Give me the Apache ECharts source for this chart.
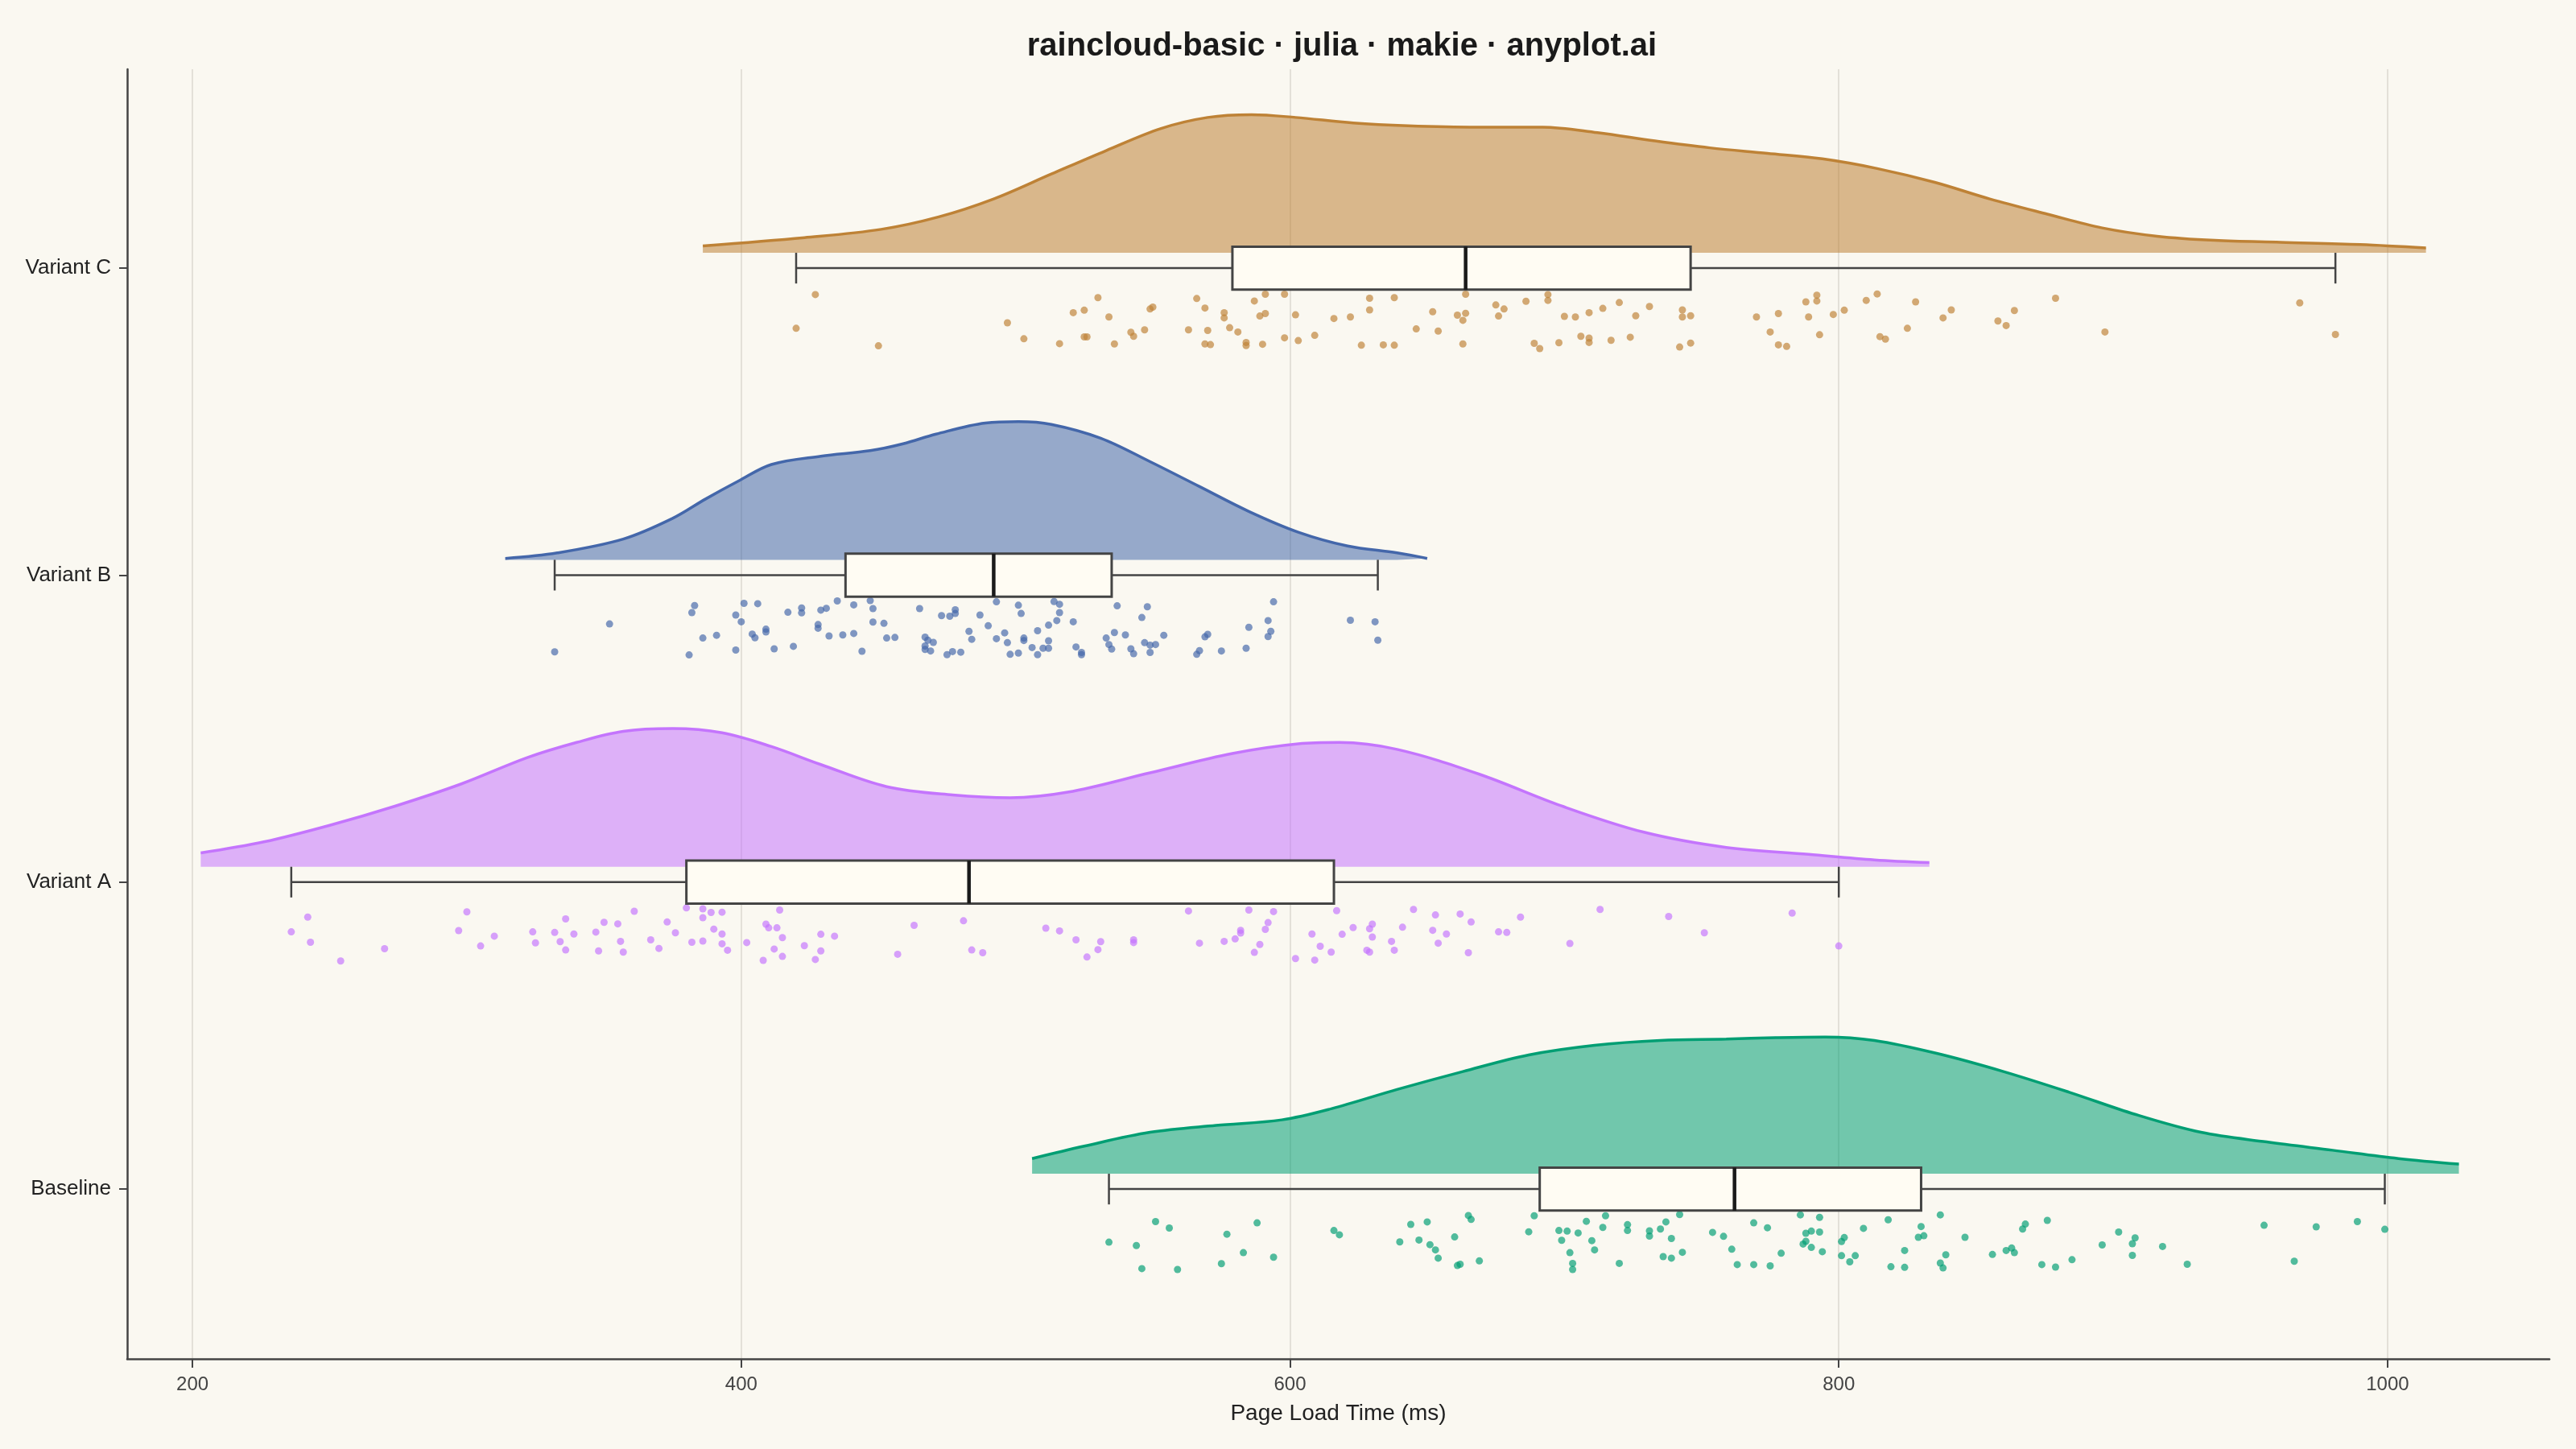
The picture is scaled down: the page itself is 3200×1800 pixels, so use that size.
<!DOCTYPE html>
<html>
<head>
<meta charset="utf-8">
<title>raincloud-basic</title>
<style>
    html, body { margin: 0; padding: 0; background: #FAF8F1; }
    #chart { width: 3200px; height: 1800px; }
</style>
</head>
<body>
<div id="chart"></div>
<script src="https://cdn.jsdelivr.net/npm/echarts@6/dist/echarts.min.js"></script>
<script>
// rows from bottom to top
var groups = ['Baseline', 'Variant A', 'Variant B', 'Variant C'];
var groupColors = ['#009E73', '#C475FD', '#4467AA', '#BE8236'];
var xTicks = [200, 400, 600, 800, 1000];

// density outline: [ms, height relative to the peak]
var baselineDensity = [[506,0.11],[525,0.20],[549,0.30],[573,0.35],[597,0.39],[615,0.47],[639,0.61],[663,0.74],[687,0.86],[711,0.93],[735,0.965],[759,0.975],[777,0.985],[795,0.99],[813,0.965],[836,0.87],[860,0.74],[884,0.59],[908,0.43],[932,0.30],[956,0.23],[980,0.17],[1004,0.11],[1026,0.07]];
var variantADensity = [[203,0.10],[226,0.18],[250,0.30],[274,0.44],[298,0.60],[322,0.79],[340,0.90],[357,0.98],[375,1.0],[393,0.97],[411,0.87],[429,0.74],[453,0.58],[477,0.52],[498,0.50],[519,0.54],[549,0.68],[579,0.82],[603,0.89],[618,0.90],[639,0.85],[669,0.67],[699,0.44],[729,0.25],[759,0.14],[789,0.09],[813,0.05],[833,0.03]];
var variantBDensity = [[314,0.01],[333,0.05],[357,0.15],[375,0.30],[387,0.44],[399,0.57],[411,0.69],[429,0.75],[447,0.79],[459,0.84],[471,0.91],[489,0.99],[501,1.0],[513,0.98],[531,0.88],[549,0.71],[567,0.53],[585,0.35],[603,0.20],[621,0.10],[639,0.05],[650,0.01]];
var variantCDensity = [[386,0.05],[423,0.11],[451,0.17],[472,0.26],[492,0.39],[513,0.57],[533,0.74],[553,0.90],[570,0.98],[586,1.0],[602,0.98],[623,0.94],[643,0.92],[668,0.91],[692,0.91],[712,0.87],[733,0.81],[753,0.76],[774,0.72],[794,0.68],[814,0.61],[835,0.51],[855,0.39],[876,0.28],[896,0.18],[916,0.12],[937,0.09],[961,0.076],[990,0.06],[1014,0.035]];

// box: [lower whisker, q1, median, q3, upper whisker]
var baselineBox = [534, 691, 762, 830, 999];
var variantABox = [236, 380, 483, 616, 800];
var variantBBox = [332, 438, 492, 535, 632];
var variantCBox = [420, 579, 664, 746, 981];

// rain: [ms, offset below the row]
var baselineDots = [[534,-0.173],[544,-0.184],[546,-0.259],[551,-0.106],[556,-0.127],[559,-0.262],[575,-0.243],[577,-0.147],[583,-0.207],[588,-0.110],[594,-0.222],[616,-0.135],[618,-0.149],[640,-0.172],[644,-0.115],[647,-0.166],[650,-0.107],[651,-0.181],[653,-0.198],[654,-0.225],[660,-0.156],[661,-0.249],[662,-0.245],[665,-0.086],[666,-0.099],[669,-0.234],[687,-0.139],[689,-0.087],[698,-0.135],[701,-0.137],[699,-0.167],[702,-0.207],[703,-0.242],[703,-0.262],[705,-0.143],[708,-0.105],[710,-0.168],[711,-0.198],[714,-0.125],[715,-0.087],[720,-0.242],[723,-0.135],[723,-0.116],[731,-0.153],[731,-0.136],[735,-0.130],[736,-0.220],[737,-0.107],[739,-0.225],[739,-0.161],[742,-0.083],[743,-0.206],[754,-0.141],[758,-0.154],[761,-0.196],[763,-0.246],[769,-0.110],[769,-0.246],[774,-0.126],[775,-0.250],[779,-0.209],[786,-0.084],[793,-0.092],[788,-0.144],[790,-0.137],[793,-0.140],[788,-0.170],[787,-0.179],[790,-0.190],[794,-0.204],[801,-0.171],[802,-0.158],[801,-0.217],[804,-0.237],[806,-0.217],[809,-0.128],[818,-0.100],[819,-0.253],[824,-0.255],[824,-0.200],[829,-0.157],[831,-0.152],[830,-0.122],[837,-0.084],[839,-0.214],[837,-0.241],[838,-0.257],[846,-0.157],[856,-0.213],[861,-0.200],[863,-0.192],[864,-0.207],[867,-0.130],[868,-0.114],[874,-0.246],[876,-0.102],[879,-0.254],[885,-0.230],[896,-0.182],[902,-0.140],[907,-0.178],[908,-0.159],[907,-0.216],[918,-0.187],[927,-0.245],[955,-0.118],[966,-0.235],[974,-0.123],[989,-0.106],[999,-0.131]];
var variantADots = [[236,-0.162],[242,-0.114],[243,-0.196],[254,-0.257],[270,-0.217],[300,-0.097],[297,-0.158],[305,-0.208],[310,-0.176],[324,-0.162],[325,-0.198],[332,-0.164],[334,-0.194],[336,-0.120],[336,-0.221],[339,-0.169],[347,-0.163],[348,-0.224],[350,-0.131],[355,-0.136],[356,-0.193],[357,-0.228],[361,-0.095],[367,-0.188],[370,-0.216],[373,-0.130],[376,-0.165],[380,-0.084],[382,-0.196],[386,-0.192],[386,-0.087],[386,-0.116],[389,-0.099],[393,-0.098],[390,-0.153],[393,-0.169],[393,-0.201],[395,-0.222],[402,-0.197],[408,-0.255],[409,-0.137],[410,-0.149],[413,-0.149],[414,-0.091],[415,-0.181],[412,-0.218],[415,-0.242],[423,-0.207],[427,-0.252],[429,-0.170],[429,-0.224],[434,-0.176],[457,-0.235],[463,-0.141],[481,-0.126],[484,-0.221],[488,-0.230],[511,-0.150],[516,-0.159],[522,-0.188],[526,-0.244],[530,-0.220],[531,-0.194],[543,-0.188],[543,-0.197],[563,-0.094],[567,-0.199],[576,-0.193],[580,-0.185],[582,-0.157],[582,-0.166],[585,-0.091],[587,-0.229],[589,-0.203],[591,-0.154],[592,-0.132],[594,-0.096],[602,-0.249],[608,-0.169],[609,-0.254],[611,-0.209],[615,-0.228],[617,-0.093],[619,-0.170],[623,-0.148],[628,-0.222],[629,-0.228],[629,-0.152],[630,-0.137],[630,-0.179],[637,-0.193],[638,-0.222],[641,-0.147],[645,-0.089],[652,-0.157],[653,-0.107],[654,-0.199],[657,-0.169],[662,-0.104],[666,-0.130],[665,-0.230],[676,-0.162],[679,-0.164],[684,-0.114],[702,-0.200],[713,-0.089],[738,-0.112],[751,-0.165],[783,-0.101],[800,-0.208]];
var variantBDots = [[332,-0.250],[352,-0.159],[383,-0.099],[382,-0.122],[381,-0.260],[386,-0.205],[391,-0.196],[398,-0.130],[400,-0.152],[398,-0.244],[401,-0.092],[406,-0.093],[404,-0.192],[405,-0.204],[409,-0.185],[409,-0.176],[412,-0.240],[417,-0.121],[419,-0.232],[422,-0.107],[422,-0.123],[429,-0.114],[431,-0.108],[428,-0.161],[428,-0.173],[432,-0.198],[435,-0.084],[437,-0.195],[441,-0.097],[441,-0.190],[447,-0.083],[448,-0.109],[448,-0.153],[452,-0.157],[444,-0.248],[453,-0.205],[456,-0.203],[465,-0.109],[467,-0.202],[468,-0.212],[470,-0.219],[467,-0.231],[467,-0.242],[469,-0.247],[473,-0.132],[476,-0.134],[478,-0.125],[478,-0.113],[475,-0.259],[477,-0.249],[480,-0.251],[484,-0.209],[483,-0.183],[487,-0.130],[490,-0.165],[493,-0.087],[493,-0.207],[496,-0.188],[497,-0.220],[498,-0.258],[501,-0.254],[501,-0.098],[502,-0.125],[503,-0.205],[503,-0.213],[506,-0.236],[508,-0.259],[508,-0.181],[510,-0.238],[512,-0.214],[512,-0.238],[512,-0.163],[514,-0.086],[516,-0.095],[516,-0.122],[515,-0.148],[521,-0.152],[522,-0.234],[524,-0.252],[524,-0.259],[533,-0.205],[536,-0.187],[534,-0.226],[535,-0.241],[537,-0.100],[540,-0.195],[542,-0.240],[543,-0.256],[546,-0.138],[548,-0.103],[547,-0.220],[549,-0.228],[549,-0.252],[551,-0.226],[554,-0.196],[566,-0.258],[567,-0.246],[569,-0.201],[570,-0.193],[575,-0.247],[584,-0.238],[585,-0.170],[592,-0.148],[593,-0.183],[592,-0.200],[594,-0.087],[622,-0.147],[631,-0.152],[632,-0.212]];
var variantCDots = [[427,-0.086],[420,-0.196],[450,-0.253],[497,-0.178],[503,-0.230],[516,-0.246],[521,-0.145],[525,-0.137],[525,-0.224],[526,-0.224],[530,-0.096],[534,-0.159],[536,-0.247],[542,-0.209],[543,-0.222],[547,-0.201],[549,-0.133],[550,-0.127],[563,-0.201],[566,-0.099],[569,-0.130],[569,-0.247],[571,-0.249],[570,-0.203],[576,-0.145],[576,-0.162],[578,-0.194],[581,-0.208],[584,-0.242],[584,-0.252],[587,-0.107],[589,-0.156],[591,-0.148],[590,-0.248],[591,-0.085],[598,-0.085],[598,-0.227],[602,-0.152],[603,-0.236],[609,-0.219],[616,-0.164],[622,-0.159],[626,-0.251],[629,-0.098],[629,-0.136],[634,-0.250],[638,-0.251],[638,-0.096],[646,-0.198],[652,-0.142],[654,-0.205],[661,-0.153],[663,-0.170],[664,-0.147],[664,-0.085],[663,-0.247],[675,-0.120],[678,-0.133],[676,-0.156],[686,-0.108],[689,-0.245],[691,-0.262],[694,-0.086],[694,-0.105],[698,-0.243],[700,-0.157],[704,-0.159],[706,-0.222],[709,-0.228],[709,-0.242],[709,-0.145],[714,-0.131],[717,-0.235],[720,-0.112],[724,-0.225],[726,-0.155],[731,-0.125],[742,-0.257],[743,-0.136],[743,-0.159],[746,-0.155],[746,-0.244],[770,-0.159],[775,-0.208],[778,-0.148],[778,-0.250],[781,-0.255],[788,-0.110],[792,-0.107],[792,-0.088],[789,-0.159],[793,-0.217],[798,-0.151],[802,-0.137],[810,-0.105],[814,-0.084],[815,-0.223],[817,-0.231],[825,-0.196],[828,-0.110],[838,-0.162],[841,-0.136],[858,-0.172],[861,-0.187],[864,-0.138],[879,-0.098],[897,-0.208],[968,-0.113],[981,-0.216]];

var densities = [baselineDensity, variantADensity, variantBDensity, variantCDensity];
var boxes = [baselineBox, variantABox, variantBBox, variantCBox];
var rain = [baselineDots, variantADots, variantBDots, variantCDots];

var BASE = 0.05;   // cloud sits just above the row line
var PEAK = 0.45;   // tallest cloud height, in row units
var BOXH = 0.07;   // half box height
var CAPH = 0.05;   // half whisker cap height

function withAlpha(hex, a) {
    var n = parseInt(hex.slice(1), 16);
    return 'rgba(' + (n >> 16 & 255) + ',' + (n >> 8 & 255) + ',' + (n & 255) + ',' + a + ')';
}

var chart = echarts.init(document.getElementById('chart'));

var series = [];
groups.forEach(function (name, i) {
    var row = i + 1;
    series.push({
        name: name,
        type: 'line',
        smooth: 0.35,
        symbol: 'none',
        z: 2,
        data: densities[i].map(function (d) { return [d[0], row + BASE + d[1] * PEAK]; }),
        lineStyle: { color: groupColors[i], width: 3.5 },
        areaStyle: { color: withAlpha(groupColors[i], 0.55), opacity: 1, origin: row + BASE }
    });
    series.push({
        name: name,
        type: 'scatter',
        symbolSize: 9,
        z: 3,
        data: rain[i].map(function (d) { return [d[0], row + d[1]]; }),
        itemStyle: { color: groupColors[i], opacity: 0.68 }
    });
});

series.push({
    type: 'custom',
    z: 5,
    encode: { x: [1, 2, 3, 4, 5], y: 0 },
    data: boxes.map(function (b, i) { return [i + 1].concat(b); }),
    renderItem: function (params, api) {
        var row = api.value(0);
        var lo = api.coord([api.value(1), row]);
        var q1 = api.coord([api.value(2), row + BOXH]);
        var md = api.coord([api.value(3), row + BOXH]);
        var q3 = api.coord([api.value(4), row - BOXH]);
        var hi = api.coord([api.value(5), row]);
        var capTop = api.coord([api.value(1), row + CAPH])[1];
        var capBot = api.coord([api.value(1), row - CAPH])[1];
        var wl = function () { return { stroke: '#444444', lineWidth: 2.5 }; };
        return {
            type: 'group',
            children: [
                { type: 'line', shape: { x1: lo[0], y1: lo[1], x2: hi[0], y2: hi[1] }, style: wl() },
                { type: 'line', shape: { x1: lo[0], y1: capTop, x2: lo[0], y2: capBot }, style: wl() },
                { type: 'line', shape: { x1: hi[0], y1: capTop, x2: hi[0], y2: capBot }, style: wl() },
                { type: 'rect', shape: { x: q1[0], y: q1[1], width: q3[0] - q1[0], height: q3[1] - q1[1] },
                  style: { fill: '#FFFCF3', stroke: '#444444', lineWidth: 3 } },
                { type: 'line', shape: { x1: md[0], y1: q1[1], x2: md[0], y2: q3[1] },
                  style: { stroke: '#1a1a1a', lineWidth: 4.5 } }
            ]
        };
    }
});

var option = {
    backgroundColor: '#FAF8F1',
    animation: false,
    textStyle: { fontFamily: 'Liberation Sans, Arial, sans-serif' },
    title: {
        text: 'raincloud-basic · julia · makie · anyplot.ai',
        left: 1662,
        textAlign: 'center',
        top: 33,
        textStyle: { fontSize: 40, fontWeight: 'bold', color: '#1a1a1a', fontFamily: 'Liberation Sans, Arial, sans-serif' }
    },
    grid: { left: 158, top: 86, width: 3009, height: 1602, containLabel: false },
    xAxis: {
        type: 'value',
        min: 176.2,
        max: 1059,
        name: 'Page Load Time (ms)',
        nameLocation: 'middle',
        nameGap: 54,
        nameTextStyle: { fontSize: 28, color: '#222222' },
        axisLine: { show: true, onZero: false, lineStyle: { color: '#444444', width: 2.5 } },
        axisTick: { show: true, inside: false, length: 11, customValues: xTicks, lineStyle: { color: '#444444', width: 2 } },
        axisLabel: {
            fontSize: 24,
            color: '#444444',
            margin: 20,
            customValues: xTicks,
            formatter: function (v) { return String(Math.round(v)); }
        },
        splitLine: { show: true, lineStyle: { color: '#E3E0D8', width: 2 } }
    },
    yAxis: {
        type: 'value',
        min: 0.447,
        max: 4.648,
        axisLine: { show: true, onZero: false, lineStyle: { color: '#444444', width: 2.5 } },
        axisTick: { show: true, length: 10, customValues: [1, 2, 3, 4], lineStyle: { color: '#444444', width: 2 } },
        axisLabel: {
            fontSize: 26,
            color: '#222222',
            margin: 20,
            customValues: [1, 2, 3, 4],
            formatter: function (v) { return groups[Math.round(v) - 1] || ''; }
        },
        splitLine: { show: false }
    },
    series: series
};

chart.setOption(option);
window.addEventListener('resize', function () { chart.resize(); });
</script>
</body>
</html>
